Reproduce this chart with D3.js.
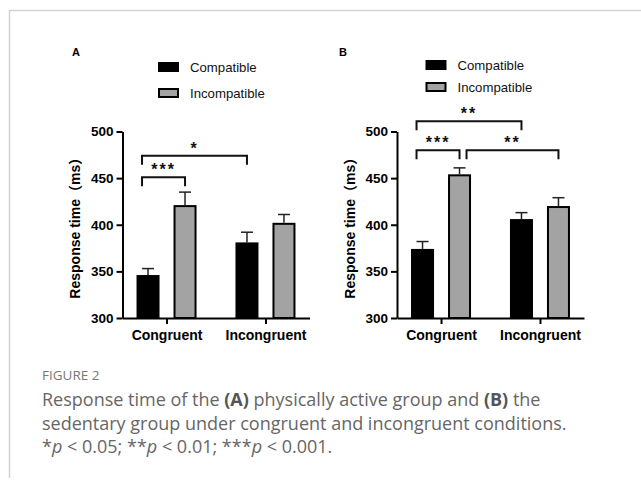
<!DOCTYPE html>
<html>
<head>
<meta charset="utf-8">
<script src="https://cdn.jsdelivr.net/npm/d3@7"></script>
<style>
	body { margin: 0; background: #fff; }
	svg { display: block; }
</style>
</head>
<body>
<div id="chart"></div>
<script>
'use strict';

// data
const categories = ["Congruent", "Incongruent"];
const series = ["Compatible", "Incompatible"];
const yTicks = [300, 350, 400, 450, 500];

// [category][series]
const activeMean = [[345, 420], [380, 401]];
const activeSem = [[8, 15], [12, 10]];
const sedentaryMean = [[373, 453], [405, 419]];
const sedentarySem = [[9, 8], [8, 10]];

// significance brackets: from [cat, series] to [cat, series], bracket height in ms
const activeSig = [
	{ from: [0, 0], to: [0, 1], at: 451, label: "***" },
	{ from: [0, 0], to: [1, 0], at: 474, label: "*" }
];
const sedentarySig = [
	{ from: [0, 0], to: [1, 0], at: 511, label: "**" },
	{ from: [0, 0], to: [0, 1], at: 480, label: "***" },
	{ from: [0, 1], to: [1, 1], at: 480, label: "**" }
];

const yTitle = "Response time（ms）";
const captionTitle = "FIGURE 2";

const W = 641, H = 481;
const font = "'Liberation Sans', Arial, 'Noto Sans CJK SC', sans-serif";
const colors = ["#000", "#a3a3a3"];

const svg = d3.select("#chart")
	.append("svg")
		.attr("width", W)
		.attr("height", H);

// page frame
svg.append("path")
	.attr("d", "M9.5,478V10.5H641")
	.attr("fill", "none")
	.attr("stroke", "#d2d2d2")
	.attr("stroke-width", 1.5);

function drawPanel(opts) {
	const g = svg.append("g")
		.attr("transform", `translate(${opts.left},0)`);

	const y = d3.scaleLinear()
		.domain([300, 500])
		.range([318, 131.5]);

	const x = d3.scalePoint()
		.domain(categories)
		.range([0, 187])
		.padding(0.445);

	const barW = 21, off = 18.5;
	const cx = (c, s) => x(categories[c]) + (s === 0 ? -off : off);

	// bars
	const rows = [];
	opts.mean.forEach((m, c) => m.forEach((v, s) =>
		rows.push({ c, s, v, e: opts.sem[c][s] })));

	g.selectAll("rect.bar")
		.data(rows)
		.join("rect")
			.attr("class", "bar")
			.attr("x", d => cx(d.c, d.s) - barW / 2)
			.attr("y", d => y(d.v))
			.attr("width", barW)
			.attr("height", d => y(300) - y(d.v))
			.attr("fill", d => colors[d.s])
			.attr("stroke", "#000")
			.attr("stroke-width", 2);

	// error bars (upper only)
	const err = g.selectAll("g.err")
		.data(rows)
		.join("g")
			.attr("class", "err")
			.attr("stroke", "#222")
			.attr("stroke-width", 1.5);
	err.append("line")
		.attr("x1", d => cx(d.c, d.s))
		.attr("x2", d => cx(d.c, d.s))
		.attr("y1", d => y(d.v) - 1)
		.attr("y2", d => y(d.v + d.e));
	err.append("line")
		.attr("x1", d => cx(d.c, d.s) - 6)
		.attr("x2", d => cx(d.c, d.s) + 6)
		.attr("y1", d => y(d.v + d.e))
		.attr("y2", d => y(d.v + d.e));

	// axes
	const yAxis = g.append("g")
		.call(d3.axisLeft(y).tickValues(yTicks).tickSize(6).tickSizeOuter(0).tickPadding(3));
	const xAxis = g.append("g")
		.attr("transform", `translate(0,${y(300)})`)
		.call(d3.axisBottom(x).tickSize(6).tickSizeOuter(0).tickPadding(6));

	[yAxis, xAxis].forEach(a => {
		a.select(".domain").attr("stroke", "#000").attr("stroke-width", 2);
		a.selectAll(".tick line").attr("stroke", "#000").attr("stroke-width", 2);
		a.selectAll("text")
			.attr("fill", "#000")
			.attr("font-family", font)
			.attr("font-weight", "bold");
	});
	yAxis.selectAll("text").attr("font-size", 13.5);
	xAxis.selectAll("text").attr("font-size", 14);

	g.append("text")
		.attr("transform", `translate(-47,${(y(300) + y(500)) / 2}) rotate(-90)`)
		.attr("text-anchor", "middle")
		.attr("dy", "0.35em")
		.attr("font-family", font)
		.attr("font-weight", "bold")
		.attr("font-size", 14)
		.text(yTitle);

	// significance brackets
	opts.sig.forEach(b => {
		const x1 = cx(b.from[0], b.from[1]) + (b.from[1] === 0 ? -6 : 7);
		const x2 = cx(b.to[0], b.to[1]);
		const yy = y(b.at);
		g.append("path")
			.attr("d", `M${x1},${yy + 9}V${yy}H${x2}V${yy + 9}`)
			.attr("fill", "none")
			.attr("stroke", "#111")
			.attr("stroke-width", 2);
		g.append("text")
			.attr("x", (x1 + x2) / 2)
			.attr("y", yy - 2)
			.attr("text-anchor", "middle")
			.attr("font-family", font)
			.attr("font-weight", "bold")
			.attr("font-size", 16)
			.attr("letter-spacing", 2)
			.attr("fill", "#111")
			.text(b.label);
	});

	// legend
	series.forEach((s, i) => {
		const ly = opts.legendY[i];
		g.append("rect")
			.attr("x", opts.legendX)
			.attr("y", ly - 4)
			.attr("width", 19)
			.attr("height", 8)
			.attr("fill", colors[i])
			.attr("stroke", "#000")
			.attr("stroke-width", 2);
		g.append("text")
			.attr("x", opts.legendX + 31)
			.attr("y", ly)
			.attr("dy", "0.35em")
			.attr("font-family", font)
			.attr("font-size", 13.2)
			.attr("fill", "#111")
			.text(s);
	});

	// panel letter
	svg.append("text")
		.attr("x", opts.labelX)
		.attr("y", 56)
		.attr("text-anchor", "middle")
		.attr("font-family", font)
		.attr("font-weight", "bold")
		.attr("font-size", 11)
		.text(opts.label);
}

drawPanel({ left: 122.5, mean: activeMean, sem: activeSem, sig: activeSig,
	legendX: 36.5, legendY: [67, 93], label: "A", labelX: 76 });
drawPanel({ left: 397, mean: sedentaryMean, sem: sedentarySem, sig: sedentarySig,
	legendX: 29.5, legendY: [65, 87], label: "B", labelX: 343 });

// caption
const cap = svg.append("g")
	.attr("font-family", "'Open Sans', sans-serif")
	.attr("fill", "#666");

cap.append("text")
	.attr("x", 42)
	.attr("y", 380)
	.attr("font-size", 13.5)
	.attr("fill", "#777")
	.text(captionTitle);

const lines = [
	[["Response time of the ", ""], ["(A)", "b"], [" physically active group and ", ""], ["(B)", "b"], [" the", ""]],
	[["sedentary group under congruent and incongruent conditions.", ""]],
	[["*", ""], ["p", "i"], [" < 0.05; **", ""], ["p", "i"], [" < 0.01; ***", ""], ["p", "i"], [" < 0.001.", ""]]
];

lines.forEach((parts, i) => {
	const t = cap.append("text")
		.attr("x", 42)
		.attr("y", 406 + i * 23.5)
		.attr("font-size", 18);
	parts.forEach(([str, st]) => {
		const sp = t.append("tspan").text(str);
		if (st === "b") sp.attr("font-weight", "bold").attr("fill", "#555");
		if (st === "i") sp.attr("font-style", "italic");
	});
});
</script>
</body>
</html>
